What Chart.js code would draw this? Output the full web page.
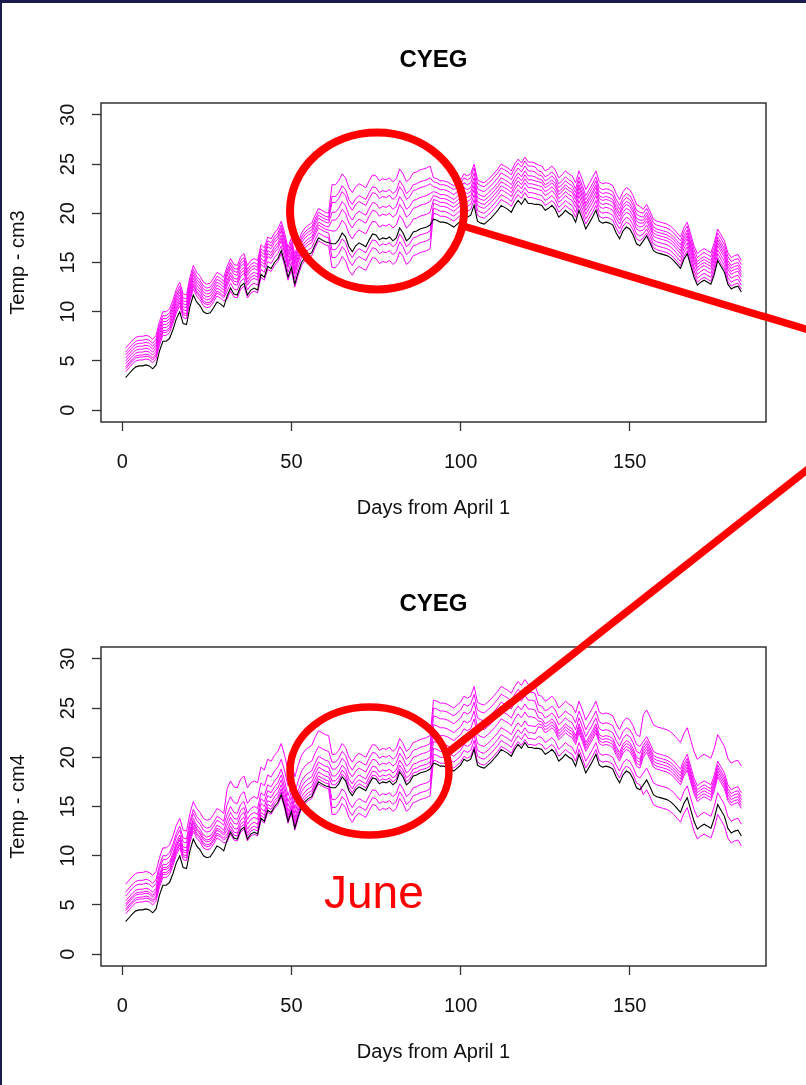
<!DOCTYPE html>
<html>
<head>
<meta charset="utf-8">
<script src="https://cdn.jsdelivr.net/npm/chart.js@4.4.1/dist/chart.umd.min.js"></script>
<style>
  html, body { margin: 0; padding: 0; }
  body { width: 806px; height: 1085px; background: #1c1b4e; position: relative; overflow: hidden;
         font-family: "Liberation Sans", Arial, sans-serif; }
  #panel { position: absolute; left: 2px; top: 3px; width: 804px; height: 1082px; background: #ffffff; }
  canvas { position: absolute; left: 0; }
  #c1 { top: 0; }
  #c2 { top: 544px; }
  #notes { position: absolute; left: 0; top: 0; pointer-events: none; }
</style>
</head>
<body>
<div id="panel"></div>
<canvas id="c1" width="806" height="544"></canvas>
<canvas id="c2" width="806" height="541"></canvas>
<svg id="notes" width="806" height="1085" xmlns="http://www.w3.org/2000/svg">
  <ellipse cx="377" cy="211" rx="87" ry="78.5" fill="none" stroke="#ff0000" stroke-width="8"/>
  <line x1="463" y1="226" x2="812" y2="331" stroke="#ff0000" stroke-width="7.5"/>
  <ellipse cx="369.5" cy="771" rx="79.5" ry="64" fill="none" stroke="#ff0000" stroke-width="7.5"/>
  <line x1="446" y1="754" x2="812" y2="466" stroke="#ff0000" stroke-width="7.5"/>
  <text x="324" y="908" fill="#ff0000" font-family="Liberation Sans, Arial, sans-serif" font-size="46">June</text>
</svg>
<script>
// ---------------- data ----------------
const days = Array.from({ length: 183 }, (_, i) => i + 1);   // days from April 1

// observed daily temperature (black line), days 1..183
const observed = [
  3.3, 3.7, 4.1, 4.4, 4.5, 4.5, 4.6, 4.5, 4.2, 4.6,
  6.0, 7.0, 7.0, 7.3, 8.2, 9.3, 10.0, 8.8, 8.7, 10.5,
  11.7, 11.0, 10.6, 10.0, 9.8, 9.9, 10.4, 11.0, 10.8, 10.5,
  11.6, 12.4, 11.8, 11.7, 12.6, 12.9, 11.7, 12.2, 12.4, 12.2,
  13.8, 13.5, 14.6, 14.4, 15.0, 15.4, 16.2, 15.0, 13.5, 14.5,
  12.8, 14.0, 15.0, 15.5, 15.8, 16.0, 16.8, 17.5, 17.3, 17.1,
  17.0, 16.9, 16.9, 17.3, 18.0, 17.6, 16.6, 16.1, 16.7, 17.0,
  16.8, 16.6, 17.3, 17.9, 17.8, 17.3, 17.5, 17.4, 17.6, 17.2,
  17.5, 18.5, 18.0, 17.2, 17.5, 18.1, 18.2, 18.4, 18.5, 18.6,
  18.8, 19.4, 19.3, 19.1, 19.1, 19.0, 18.8, 18.6, 18.9, 19.2,
  19.8, 19.6, 19.8, 20.8, 19.2, 19.0, 18.9, 19.2, 19.5, 19.9,
  20.3, 20.8, 20.6, 20.4, 20.1, 20.8, 21.3, 20.9, 21.5, 21.0,
  21.0, 20.9, 20.9, 20.8, 20.3, 20.5, 20.8, 20.4, 19.6, 19.9,
  20.3, 20.0, 19.8, 19.1, 20.3, 19.4, 18.4, 19.0, 19.6, 20.3,
  19.2, 19.0, 19.1, 19.0, 18.8, 18.0, 17.4, 18.2, 18.6, 18.4,
  17.8, 16.9, 16.7, 17.2, 17.7, 17.0, 16.2, 16.0, 15.9, 15.8,
  15.7, 15.5, 15.2, 14.8, 14.4, 15.3, 15.9, 14.7, 13.5, 12.7,
  13.0, 13.2, 13.0, 12.8, 13.8, 15.2, 14.6, 14.0, 12.8, 12.3,
  12.5, 12.6, 12.0
];

// first day of each month: Apr, May, Jun, Jul, Aug, Sep
const monthStart = [1, 31, 62, 92, 123, 154];

// monthly change of each scenario vs observed [Apr, May, Jun, Jul, Aug, Sep] – model cm3
const cm3Change = [
  [3.0, 3.0, 6.0, 4.2, 4.0, 3.2],
  [2.6, 2.6, 4.8, 3.8, 3.4, 2.8],
  [2.3, 2.3, 4.2, 3.3, 3.0, 2.4],
  [2.0, 2.0, 3.2, 2.8, 2.6, 2.1],
  [1.7, 1.6, 2.4, 2.4, 2.3, 1.8],
  [1.4, 1.3, 1.3, 2.0, 1.9, 1.5],
  [1.1, 1.0, -0.6, 1.6, 1.5, 1.1],
  [0.9, 0.5, -1.4, 1.1, 1.0, 0.7],
  [0.6, -0.3, -2.4, 0.6, 0.5, 0.3]
];
// model cm4
const cm4Change = [
  [3.8, 5.2, 3.4, 6.4, 5.4, 7.1],
  [3.0, 3.6, 2.6, 5.6, 4.4, 4.4],
  [2.6, 2.6, 1.9, 4.8, 3.7, 4.0],
  [2.1, 2.0, 1.2, 3.9, 3.1, 3.7],
  [1.8, 1.5, 0.7, 3.1, 2.8, 3.4],
  [1.6, 1.0, 0.3, 2.2, 2.5, 3.1],
  [1.3, 0.6, -1.2, 1.5, 2.2, 2.8],
  [1.1, 0.3, -2.0, 0.9, 1.2, 1.2],
  [0.8, -0.2, -2.7, 0.3, 0.5, -1.0]
];

const xTicks = [0, 50, 100, 150];
const yTicks = [0, 5, 10, 15, 20, 25, 30];
const chartTitle = 'CYEG';
const xTitle = 'Days from April 1';

// ---------------- drawing ----------------
const FONT = '"Liberation Sans", Arial, Helvetica, sans-serif';
function monthOf(d) {
  let m = 0;
  for (let k = 0; k < monthStart.length; k++) if (d >= monthStart[k]) m = k;
  return m;
}

const framePlugin = {
  id: 'frame',
  afterDraw(chart, args, opts) {
    const { ctx, chartArea: a } = chart;
    ctx.save();
    ctx.strokeStyle = '#333';
    ctx.lineWidth = 1.5;
    ctx.strokeRect(a.left, a.top, a.right - a.left, a.bottom - a.top);
    ctx.font = 'bold 24px ' + FONT;
    ctx.fillStyle = '#000';
    ctx.textAlign = 'center';
    ctx.textBaseline = 'alphabetic';
    ctx.fillText(opts.title, (a.left + a.right) / 2, a.top - 36);
    ctx.restore();
  }
};

function makeChart(id, change, yTitle, h) {
  const obs = {
    label: 'observed',
    data: observed.map((v, i) => ({ x: days[i], y: v })),
    borderColor: '#000000', borderWidth: 1.1, pointRadius: 0, tension: 0
  };
  const scen = change.map((c, k) => ({
    label: 'scenario ' + (k + 1),
    data: observed.map((v, i) => ({ x: days[i], y: v + c[monthOf(days[i])] })),
    borderColor: '#ff00ff', borderWidth: 1, pointRadius: 0, tension: 0
  }));
  const axisGrid = { drawOnChartArea: false, drawTicks: true, tickLength: 9, tickColor: '#333', tickWidth: 1.3 };
  return new Chart(document.getElementById(id), {
    type: 'line',
    data: { datasets: [obs, ...scen] },
    options: {
      responsive: false, animation: false, events: [],
      layout: { padding: { top: 103, right: 40, left: 0, bottom: 0 } },
      plugins: { legend: { display: false }, tooltip: { enabled: false }, title: { display: false },
                 frame: { title: chartTitle } },
      scales: {
        x: {
          type: 'linear', min: -6.28, max: 190.28,
          afterBuildTicks: s => { s.ticks = xTicks.map(v => ({ value: v })); },
          afterFit: s => { s.height = h - 422; },
          grid: axisGrid, border: { display: false },
          ticks: { color: '#111', font: { size: 20, family: FONT }, padding: 19, maxRotation: 0, autoSkip: false },
          title: { display: true, text: xTitle, color: '#111', font: { size: 20, family: FONT },
                   padding: { top: 0, bottom: h - 520 } }
        },
        y: {
          type: 'linear', min: -1.2, max: 31.2,
          afterBuildTicks: s => { s.ticks = yTicks.map(v => ({ value: v })); },
          afterFit: s => { s.width = 101; },
          grid: axisGrid, border: { display: false },
          ticks: { color: '#111', font: { size: 20, family: FONT }, padding: 12, minRotation: 90, maxRotation: 90,
                   crossAlign: 'center', autoSkip: false },
          title: { display: true, text: yTitle, color: '#111', font: { size: 20, family: FONT },
                   padding: { top: 6, bottom: 0 } }
        }
      }
    },
    plugins: [framePlugin]
  });
}

makeChart('c1', cm3Change, 'Temp - cm3', 544);
makeChart('c2', cm4Change, 'Temp - cm4', 541);
</script>
</body>
</html>
